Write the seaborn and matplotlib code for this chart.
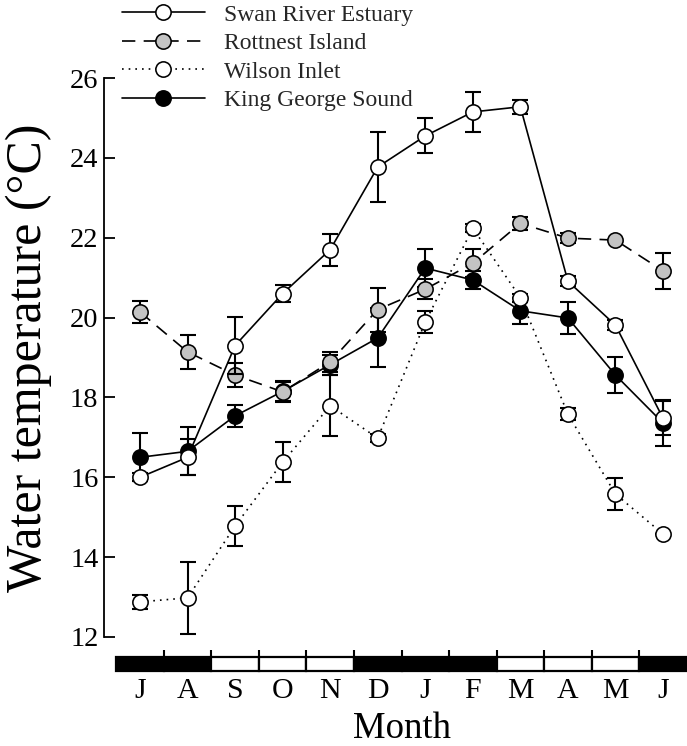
import matplotlib
matplotlib.use("Agg")
import matplotlib.pyplot as plt
from matplotlib.lines import Line2D
from matplotlib.patches import Rectangle
import seaborn as sns
import numpy as np

# ---------------- data ----------------
months = ["J", "A", "S", "O", "N", "D", "J", "F", "M", "A", "M", "J"]
month_pos = list(range(12))

swan = [16.0, 16.5, 19.3, 20.6, 21.7, 23.77, 24.55, 25.15, 25.28, 20.91, 19.81, 17.48]
swan_err = [0.1, 0.45, 0.72, 0.22, 0.4, 0.88, 0.44, 0.49, 0.18, 0.12, 0.12, 0.42]

rottnest = [20.14, 19.14, 18.56, 18.14, 18.89, 20.2, 20.71, 21.36, 22.36, 21.99, 21.94, 21.17]
rottnest_err = [0.27, 0.42, 0.3, 0.25, 0.25, 0.55, 0.25, 0.35, 0.17, 0.12, 0.0, 0.45]

wilson = [12.88, 12.98, 14.78, 16.38, 17.79, 16.98, 19.89, 22.24, 20.5, 17.58, 15.58, 14.58]
wilson_err = [0.17, 0.9, 0.5, 0.5, 0.76, 0.1, 0.28, 0.1, 0.1, 0.15, 0.4, 0.0]

kgs = [16.5, 16.65, 17.54, 18.15, 18.82, 19.49, 21.24, 20.94, 20.17, 19.99, 18.56, 17.36]
kgs_err = [0.6, 0.6, 0.27, 0.25, 0.25, 0.74, 0.48, 0.22, 0.33, 0.4, 0.45, 0.57]

# 1 = dark segment, 0 = light segment on the month bar
bar_shading = [1, 1, 0, 0, 0, 1, 1, 1, 0, 0, 0, 1]

series_labels = ["Swan River Estuary", "Rottnest Island", "Wilson Inlet", "King George Sound"]

# ---------------- style ----------------
sns.set_theme(style="ticks")
plt.rcParams["font.family"] = ["Liberation Serif", "DejaVu Serif"]

W, H = 687, 746
fig = plt.figure(figsize=(W / 100, H / 100), dpi=100)

def fx(px):
    return px / W

def fy(py):
    return 1 - py / H

x0_px, x1_px = 104, 687
y_top_px, y_bot_px = 78, 637
ax = fig.add_axes([fx(x0_px), fy(y_bot_px), fx(x1_px) - fx(x0_px), fy(y_top_px) - fy(y_bot_px)])

unit = (663 - 140) / 11.0
xlim = ((x0_px - 140) / unit, (x1_px - 140) / unit)

dash_style = (0, (8.0, 5.0))
dot_style = (0, (1.0, 3.0))
grey = "#c3c3c3"
lw = 1.2
ms = 11
mew = 1.15

spec = {
    "King George Sound": dict(y=kgs, e=kgs_err, ls="-", fc="black", z=3),
    "Wilson Inlet": dict(y=wilson, e=wilson_err, ls=dot_style, fc="white", z=4),
    "Rottnest Island": dict(y=rottnest, e=rottnest_err, ls=dash_style, fc=grey, z=5),
    "Swan River Estuary": dict(y=swan, e=swan_err, ls="-", fc="white", z=6),
}

for name in ["King George Sound", "Wilson Inlet", "Rottnest Island", "Swan River Estuary"]:
    s = spec[name]
    ax.errorbar(month_pos, s["y"], yerr=s["e"], fmt="none", ecolor="black",
                elinewidth=1.5, capsize=6, capthick=1.5, zorder=s["z"], clip_on=False)
    sns.lineplot(x=month_pos, y=s["y"], ax=ax, color="black", linestyle=s["ls"],
                 linewidth=lw, marker="o", markersize=ms, markerfacecolor=s["fc"],
                 markeredgecolor="black", markeredgewidth=mew, legend=False,
                 errorbar=None, sort=False, zorder=s["z"] + 0.5, clip_on=False)

ax.set_xlim(*xlim)
ax.set_ylim(12, 26)
ax.set_yticks(np.arange(12, 27, 2))
ax.tick_params(axis="y", direction="in", length=8, width=1.3, labelsize=20.5, pad=4, colors="black")
ax.set_xticks([])
for sp in ["top", "right", "bottom"]:
    ax.spines[sp].set_visible(False)
ax.spines["left"].set_linewidth(1.3)
ax.spines["left"].set_color("black")
ax.set_xlabel("")
ax.set_ylabel("Water temperature (°C)", fontsize=36, color="black")
ax.yaxis.set_label_coords((52 - x0_px) / (x1_px - x0_px), 0.5)

# ---------------- month bar ----------------
bar_top_px, bar_bot_px = 657, 671
bax = fig.add_axes([fx(x0_px), fy(bar_bot_px), fx(x1_px) - fx(x0_px), fy(bar_top_px) - fy(bar_bot_px)])
bax.set_xlim(*xlim)
bax.set_ylim(0, 1)
for i, shade in enumerate(bar_shading):
    bax.add_patch(Rectangle((month_pos[i] - 0.5, 0), 1, 1, facecolor="black" if shade else "white",
                            edgecolor="black", linewidth=1.6, clip_on=False))
for sp in bax.spines.values():
    sp.set_visible(False)
bax.set_yticks([])
bax.set_xticks(month_pos)
bax.set_xticklabels(months)
bax.set_xticks([p + 0.5 for p in month_pos[:-1]], minor=True)
bax.tick_params(axis="x", which="major", length=0, labelsize=21.5, pad=5, colors="black")
bax.tick_params(axis="x", which="minor", top=True, bottom=False, direction="out",
                length=5, width=1.5, color="black")
bax.set_xlabel("Month", fontsize=26.5, color="black")
bax.xaxis.set_label_coords((5.5 - xlim[0]) / (xlim[1] - xlim[0]), -(711 - bar_bot_px) / (bar_bot_px - bar_top_px))

# ---------------- legend ----------------
handles = [
    Line2D([], [], color="black", linestyle="-", linewidth=lw, marker="o", markersize=ms,
           markerfacecolor="white", markeredgecolor="black", markeredgewidth=mew),
    Line2D([], [], color="black", linestyle=dash_style, linewidth=lw, marker="o", markersize=ms,
           markerfacecolor=grey, markeredgecolor="black", markeredgewidth=mew),
    Line2D([], [], color="black", linestyle=dot_style, linewidth=lw, marker="o", markersize=ms,
           markerfacecolor="white", markeredgecolor="black", markeredgewidth=mew),
    Line2D([], [], color="black", linestyle="-", linewidth=lw, marker="o", markersize=ms,
           markerfacecolor="black", markeredgecolor="black", markeredgewidth=mew),
]
fig.legend(handles, series_labels, loc="upper left", bbox_to_anchor=(fx(122), fy(4)),
           frameon=False, fontsize=17, handlelength=3.5, handletextpad=0.8,
           labelspacing=0.3, borderpad=0, borderaxespad=0)

fig.savefig("out.png", dpi=100)
